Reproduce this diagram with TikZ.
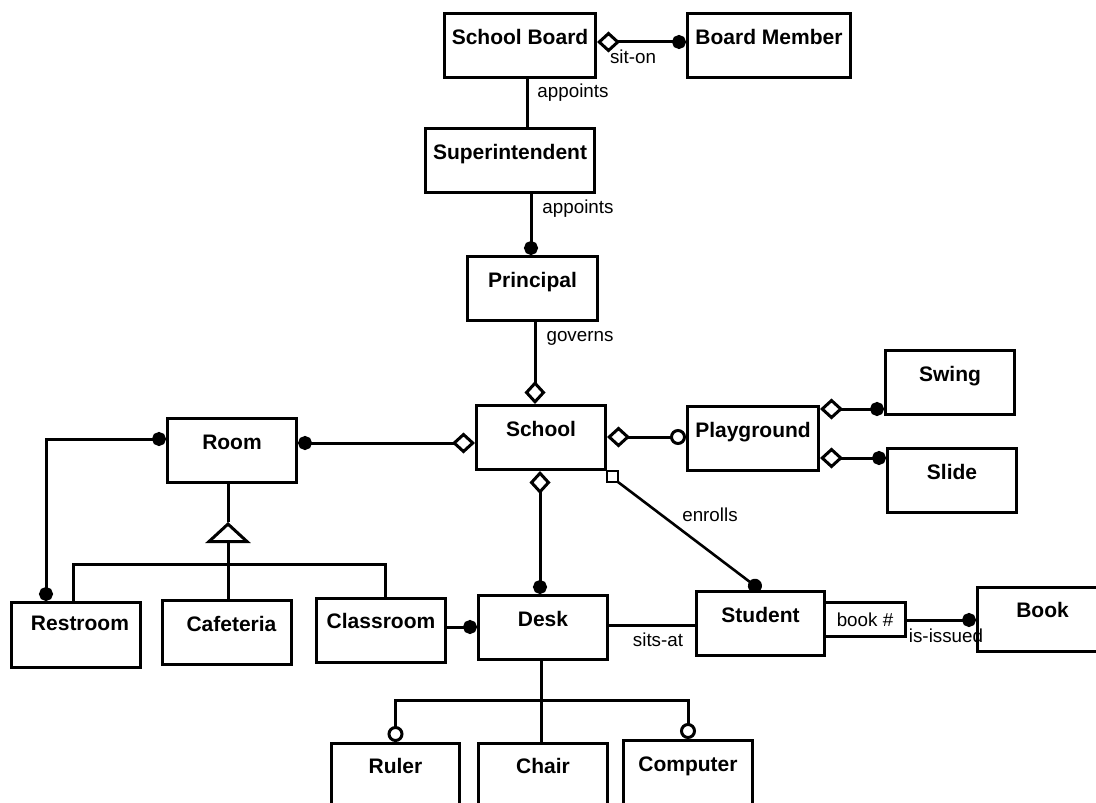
\documentclass[tikz,border=0pt]{standalone}
\usepackage{fontspec}
\setmainfont{Liberation Sans}
\usetikzlibrary{arrows.meta}
\newcommand\entfont{\fontsize{21bp}{25bp}\selectfont\bfseries}
\newcommand\relfont{\fontsize{18.8bp}{22bp}\selectfont}
\tikzset{
  ent/.style={draw, line width=3bp, inner sep=0pt, anchor=north west,
    minimum width=#1, text height=31bp, text depth=33bp, font=\entfont},
  rel/.style={anchor=base, inner sep=0pt, font=\relfont},
  conn/.style={line width=3bp},
  dot/.tip={Circle[length=14bp]},
  ocirc/.tip={Circle[open, length=16bp]},
  dia/.tip={Diamond[open, length=23bp, width=21bp]},
  gen/.tip={Triangle[open, length=21bp, width=45bp]},
}
\begin{document}
\begin{tikzpicture}[x=1bp, y=-1bp]
\useasboundingbox (0,0) rectangle (1096,803);
\clip (0,0) rectangle (1096,803);
\fill[white] (0,0) rectangle (1096,803);

% entities
\node[ent=151bp] (sb) at (443,12) {School Board};
\node[ent=163bp] (bm) at (686,12) {Board Member};
\node[ent=169bp] (sup) at (424,127) {Superintendent};
\node[ent=130bp] (pri) at (466,255) {Principal};
\node[ent=129bp] (sch) at (475,404) {School};
\node[ent=129bp] (room) at (166,417) {Room};
\node[ent=131bp] (play) at (686,405) {Playground};
\node[ent=129bp] (swing) at (884,349) {Swing};
\node[ent=129bp] (slide) at (886,447) {Slide};
\node[ent=129bp, text height=28bp, text depth=37bp] (rest) at (10,601) {\hspace*{8bp}Restroom};
\node[ent=129bp] (caf) at (161,599) {\hspace*{9bp}Cafeteria};
\node[ent=129bp, text height=30bp, text depth=34bp] (cls) at (315,597) {Classroom};
\node[ent=129bp] (desk) at (477,594) {Desk};
\node[ent=128bp] (stud) at (695,590) {Student};
\node[draw, line width=3bp, inner sep=0pt, anchor=north west, minimum width=81bp,
      minimum height=34bp, font=\relfont] (bno) at (823,601) {book \#};
\node[ent=130bp, text height=30bp, text depth=34bp] (book) at (976,586) {Book};
\node[ent=128bp, text height=30bp] (ruler) at (330,742) {Ruler};
\node[ent=129bp, text height=30bp] (chair) at (477,742) {Chair};
\node[ent=129bp] (comp) at (622,739) {Computer};

% relationship labels
\node[rel] (lsit) at (633,64) {sit-on};
\node[rel] (lapp1) at (573,98) {appoints};
\node[rel] (lapp2) at (578,213) {appoints};
\node[rel] (lgov) at (580,341) {governs};
\node[rel] (lenr) at (710,521) {enrolls};
\node[rel] (lsits) at (658,646) {sits-at};
\node[rel] (liss) at (946,642) {is-issued};

% helper points
\coordinate (gtop) at (228,522);
\coordinate (gbar) at (228,564);
\coordinate (dsplit) at (541,700);

% connectors
\draw[conn, dia-dot] (sb.east |- 0,42) -- (bm.west |- 0,42);
\draw[conn] (sb.south -| 527,0) -- (sup.north -| 527,0);
\draw[conn, -dot] (sup.south -| 531,0) -- (pri.north -| 531,0);
\draw[conn, -dia] (pri.south -| 535,0) -- (sch.north -| 535,0);
\draw[conn, dot-dia] (room.east |- 0,443) -- (sch.west |- 0,443);
\draw[conn, dia-ocirc] (sch.east |- 0,437) -- (play.west |- 0,437);
\draw[conn, dia-dot] (play.east |- 0,409) -- (swing.west |- 0,409);
\draw[conn, dia-dot] (play.east |- 0,458) -- (slide.west |- 0,458);
\draw[conn, dia-dot] (sch.south -| 540,0) -- (desk.north -| 540,0);
\draw[line width=2.6bp] (sch.south east) rectangle ++(11,11) coordinate (sq);
\draw[line width=2.6bp, -dot] (sq) -- (stud.north);
\draw[conn, dot-dot] (room.west |- 0,439) -| (rest.north -| 46,0);
\draw[conn] (room.south -| 228,0) -- (gtop);
\draw[conn, -gen] (gbar) -- (gtop);
\draw[conn] (rest.north -| 73,0) |- (gbar) -| (cls.north -| 385,0);
\draw[conn] (gbar) -- (caf.north -| 228,0);
\draw[conn, -dot] (cls.east |- 0,627) -- (desk.west |- 0,627);
\draw[conn] (desk.east |- 0,625) -- (stud.west |- 0,625);
\draw[conn, -dot] (bno.east |- 0,620) -- (book.west |- 0,620);
\draw[conn] (desk.south -| 541,0) -- (chair.north -| 541,0);
\draw[conn, -ocirc] (dsplit) -| (ruler.north);
\draw[conn, -ocirc] (dsplit) -| (comp.north);
\end{tikzpicture}
\end{document}
